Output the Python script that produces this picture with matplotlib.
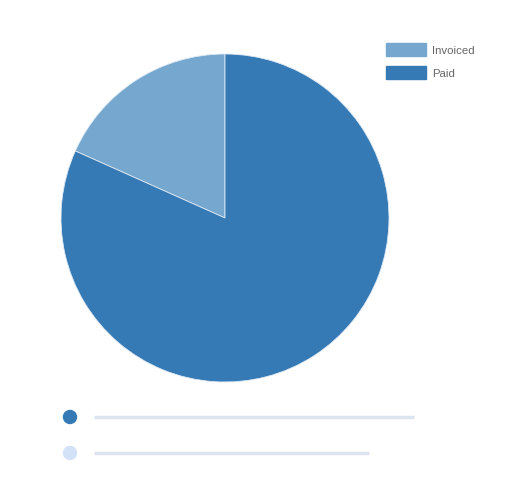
import matplotlib
matplotlib.use("Agg")
import matplotlib.pyplot as plt
from matplotlib.patches import Rectangle, Circle

# data
labels = ["Invoiced", "Paid"]
values = [18.3, 81.7]
colors = ["#75a7cf", "#3579b5"]

W, H = 520, 494
fig = plt.figure(figsize=(W / 100, H / 100), dpi=100)

# pie axes: centre (225, 218) px, radius 164 px
cx, cy, r = 225, 218, 164
ax = fig.add_axes([(cx - r) / W, (H - cy - r) / H, 2 * r / W, 2 * r / H])
ax.pie(values, colors=colors, startangle=90, counterclock=True, radius=1,
       wedgeprops=dict(linewidth=0.6, edgecolor="#dfe9f3"))
ax.set_xlim(-1, 1)
ax.set_ylim(-1, 1)
ax.set_aspect("equal")
ax.axis("off")

# overlay in pixel coords for legend and placeholder rows
ov = fig.add_axes([0, 0, 1, 1])
ov.set_xlim(0, W)
ov.set_ylim(H, 0)
ov.axis("off")

for i, (lab, col) in enumerate(zip(labels, colors)):
    y = 49.5 + i * 23.5
    ov.add_patch(Rectangle((386, y - 6.5), 40, 13, color=col))
    ov.text(432, y + 1, lab, fontsize=8.2, color="#666666", va="center", ha="left",
            family="Liberation Sans")

# placeholder rows under the pie
dot_colors = ["#3579b5", "#d3e2f6"]
line_ends = [414, 369]
for i, (dc, xe) in enumerate(zip(dot_colors, line_ends)):
    y = 417 + i * 36
    ov.add_patch(Circle((70, y), 6.5, color=dc))
    ov.plot([94, xe], [y, y], color="#dce4f0", linewidth=2.5, solid_capstyle="butt")

fig.savefig("out.png", dpi=100)
